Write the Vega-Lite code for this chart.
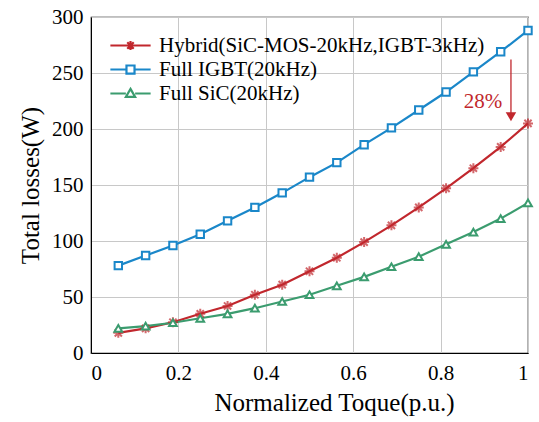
{
  "$schema": "https://vega.github.io/schema/vega-lite/v6.json",
  "width": 437,
  "height": 336,
  "autosize": {"type": "none"},
  "padding": {"left": 91, "top": 17, "right": 11, "bottom": 69},
  "background": "white",
  "config": {
    "font": "Liberation Serif, DejaVu Serif, serif",
    "text": {"font": "Liberation Serif, DejaVu Serif, serif"},
    "legend": {"labelFont": "Liberation Serif, DejaVu Serif, serif", "titleFont": "Liberation Serif, DejaVu Serif, serif"},
    "view": {"stroke": "black", "strokeWidth": 1.2},
    "axis": {
      "labelFont": "Liberation Serif, DejaVu Serif, serif", "titleFont": "Liberation Serif, DejaVu Serif, serif",
      "labelFontSize": 21, "titleFontSize": 25, "labelColor": "black", "titleColor": "black",
      "titleFontWeight": "normal", "domainColor": "black", "tickColor": "black",
      "gridColor": "#c8c8c8", "gridWidth": 1
    }
  },
  "datasets": {
    "losses": [
      {"t": 0.0625, "s": "Hybrid(SiC-MOS-20kHz,IGBT-3kHz)", "v": 18},
      {"t": 0.125, "s": "Hybrid(SiC-MOS-20kHz,IGBT-3kHz)", "v": 22},
      {"t": 0.1875, "s": "Hybrid(SiC-MOS-20kHz,IGBT-3kHz)", "v": 27.5},
      {"t": 0.25, "s": "Hybrid(SiC-MOS-20kHz,IGBT-3kHz)", "v": 35},
      {"t": 0.3125, "s": "Hybrid(SiC-MOS-20kHz,IGBT-3kHz)", "v": 42},
      {"t": 0.375, "s": "Hybrid(SiC-MOS-20kHz,IGBT-3kHz)", "v": 52},
      {"t": 0.4375, "s": "Hybrid(SiC-MOS-20kHz,IGBT-3kHz)", "v": 61},
      {"t": 0.5, "s": "Hybrid(SiC-MOS-20kHz,IGBT-3kHz)", "v": 73},
      {"t": 0.5625, "s": "Hybrid(SiC-MOS-20kHz,IGBT-3kHz)", "v": 85},
      {"t": 0.625, "s": "Hybrid(SiC-MOS-20kHz,IGBT-3kHz)", "v": 99},
      {"t": 0.6875, "s": "Hybrid(SiC-MOS-20kHz,IGBT-3kHz)", "v": 114},
      {"t": 0.75, "s": "Hybrid(SiC-MOS-20kHz,IGBT-3kHz)", "v": 130},
      {"t": 0.8125, "s": "Hybrid(SiC-MOS-20kHz,IGBT-3kHz)", "v": 147},
      {"t": 0.875, "s": "Hybrid(SiC-MOS-20kHz,IGBT-3kHz)", "v": 165},
      {"t": 0.9375, "s": "Hybrid(SiC-MOS-20kHz,IGBT-3kHz)", "v": 184},
      {"t": 1.0, "s": "Hybrid(SiC-MOS-20kHz,IGBT-3kHz)", "v": 205},
      {"t": 0.0625, "s": "Full IGBT(20kHz)", "v": 78},
      {"t": 0.125, "s": "Full IGBT(20kHz)", "v": 87},
      {"t": 0.1875, "s": "Full IGBT(20kHz)", "v": 96},
      {"t": 0.25, "s": "Full IGBT(20kHz)", "v": 106},
      {"t": 0.3125, "s": "Full IGBT(20kHz)", "v": 118},
      {"t": 0.375, "s": "Full IGBT(20kHz)", "v": 130},
      {"t": 0.4375, "s": "Full IGBT(20kHz)", "v": 143},
      {"t": 0.5, "s": "Full IGBT(20kHz)", "v": 157},
      {"t": 0.5625, "s": "Full IGBT(20kHz)", "v": 170},
      {"t": 0.625, "s": "Full IGBT(20kHz)", "v": 186},
      {"t": 0.6875, "s": "Full IGBT(20kHz)", "v": 201},
      {"t": 0.75, "s": "Full IGBT(20kHz)", "v": 217},
      {"t": 0.8125, "s": "Full IGBT(20kHz)", "v": 233},
      {"t": 0.875, "s": "Full IGBT(20kHz)", "v": 251},
      {"t": 0.9375, "s": "Full IGBT(20kHz)", "v": 269},
      {"t": 1.0, "s": "Full IGBT(20kHz)", "v": 288},
      {"t": 0.0625, "s": "Full SiC(20kHz)", "v": 22},
      {"t": 0.125, "s": "Full SiC(20kHz)", "v": 24},
      {"t": 0.1875, "s": "Full SiC(20kHz)", "v": 27},
      {"t": 0.25, "s": "Full SiC(20kHz)", "v": 31},
      {"t": 0.3125, "s": "Full SiC(20kHz)", "v": 35},
      {"t": 0.375, "s": "Full SiC(20kHz)", "v": 40},
      {"t": 0.4375, "s": "Full SiC(20kHz)", "v": 46},
      {"t": 0.5, "s": "Full SiC(20kHz)", "v": 52},
      {"t": 0.5625, "s": "Full SiC(20kHz)", "v": 60},
      {"t": 0.625, "s": "Full SiC(20kHz)", "v": 68},
      {"t": 0.6875, "s": "Full SiC(20kHz)", "v": 77},
      {"t": 0.75, "s": "Full SiC(20kHz)", "v": 86},
      {"t": 0.8125, "s": "Full SiC(20kHz)", "v": 97},
      {"t": 0.875, "s": "Full SiC(20kHz)", "v": 108},
      {"t": 0.9375, "s": "Full SiC(20kHz)", "v": 120},
      {"t": 1.0, "s": "Full SiC(20kHz)", "v": 134}
    ],
    "arrow": [{"t": 0.961, "y1": 262, "y2": 211, "label": "28%", "lt": 0.897, "ly": 224}]
  },
  "layer": [
    {
      "data": {"name": "losses"},
      "mark": {"type": "line", "strokeWidth": 2.2},
      "encoding": {
        "x": {"field": "t", "type": "quantitative", "scale": {"domain": [0, 1], "nice": false},
          "axis": {"title": "Normalized Toque(p.u.)", "titleX": 243, "labelFont": "Liberation Serif, DejaVu Serif, serif", "titleFont": "Liberation Serif, DejaVu Serif, serif", "values": [0, 0.2, 0.4, 0.6, 0.8, 1], "labelExpr": "datum.value == 0 ? '0' : datum.value == 1 ? '1' : format(datum.value, '.1f')", "tickSize": 0, "labelPadding": 9, "titlePadding": 7}},
        "y": {"field": "v", "type": "quantitative", "scale": {"domain": [0, 300], "nice": false},
          "axis": {"title": "Total losses(W)", "labelFont": "Liberation Serif, DejaVu Serif, serif", "titleFont": "Liberation Serif, DejaVu Serif, serif", "values": [0, 50, 100, 150, 200, 250, 300], "tickSize": 0, "labelPadding": 8, "titlePadding": 8}},
        "color": {"field": "s", "type": "nominal",
          "scale": {"domain": ["Hybrid(SiC-MOS-20kHz,IGBT-3kHz)", "Full IGBT(20kHz)", "Full SiC(20kHz)"], "range": ["#c1272d", "#1a87c9", "#3b9c6f"]},
          "legend": {
            "title": null, "orient": "top-left", "offsetX": 8, "offsetY": 4,
            "labelFont": "Liberation Serif, DejaVu Serif, serif", "labelFontSize": 21, "labelColor": "black", "labelLimit": 400,
            "clipHeight": 21, "rowPadding": 2, "symbolSize": 1620, "symbolStrokeWidth": 2.2, "labelOffset": 7,
            "encode": {"symbols": {"update": {
              "shape": {"signal": "datum.value == 'Full IGBT(20kHz)' ? 'M-1,0H-0.2M0.2,0H1M-0.2,-0.2H0.2V0.2H-0.2Z' : datum.value == 'Full SiC(20kHz)' ? 'M-1,0H-0.23M0.23,0H1M0,-0.23L0.23,0.17H-0.23Z' : 'M-1,0H1M0,-0.22V0.22M-0.16,-0.16L0.16,0.16M-0.16,0.16L0.16,-0.16'"},
              "size": {"value": 1620}, "strokeWidth": {"value": 2.2}
            }}}
          }}
      }
    },
    {
      "data": {"name": "losses"},
      "transform": [{"filter": "datum.s == 'Hybrid(SiC-MOS-20kHz,IGBT-3kHz)'"}],
      "mark": {"type": "point", "filled": false, "strokeWidth": 2, "size": 100, "shape": "M-1,0H1M0,-1V1M-0.72,-0.72L0.72,0.72M-0.72,0.72L0.72,-0.72", "color": "#c1272d"},
      "encoding": {
        "x": {"field": "t", "type": "quantitative"},
        "y": {"field": "v", "type": "quantitative"}
      }
    },
    {
      "data": {"name": "losses"},
      "transform": [{"filter": "datum.s == 'Full IGBT(20kHz)'"}],
      "mark": {"type": "point", "filled": false, "strokeWidth": 2, "size": 55, "shape": "square", "color": "#1a87c9", "fill": "white", "fillOpacity": 1},
      "encoding": {
        "x": {"field": "t", "type": "quantitative"},
        "y": {"field": "v", "type": "quantitative"}
      }
    },
    {
      "data": {"name": "losses"},
      "transform": [{"filter": "datum.s == 'Full SiC(20kHz)'"}],
      "mark": {"type": "point", "filled": false, "strokeWidth": 2, "size": 60, "shape": "triangle-up", "color": "#3b9c6f", "fill": "white", "fillOpacity": 1},
      "encoding": {
        "x": {"field": "t", "type": "quantitative"},
        "y": {"field": "v", "type": "quantitative"}
      }
    },
    {
      "data": {"name": "arrow"},
      "mark": {"type": "rule", "color": "#c1272d", "strokeWidth": 1.3},
      "encoding": {"x": {"field": "t", "type": "quantitative"}, "y": {"field": "y1", "type": "quantitative"}, "y2": {"field": "y2"}}
    },
    {
      "data": {"name": "arrow"},
      "mark": {"type": "point", "shape": "triangle-down", "filled": true, "color": "#c1272d", "size": 110, "opacity": 1},
      "encoding": {"x": {"field": "t", "type": "quantitative"}, "y": {"field": "y2", "type": "quantitative"}}
    },
    {
      "data": {"name": "arrow"},
      "mark": {"type": "text", "color": "#c1272d", "fontSize": 21, "font": "Liberation Serif, DejaVu Serif, serif"},
      "encoding": {"x": {"field": "lt", "type": "quantitative"}, "y": {"field": "ly", "type": "quantitative"}, "text": {"field": "label"}}
    }
  ]
}
